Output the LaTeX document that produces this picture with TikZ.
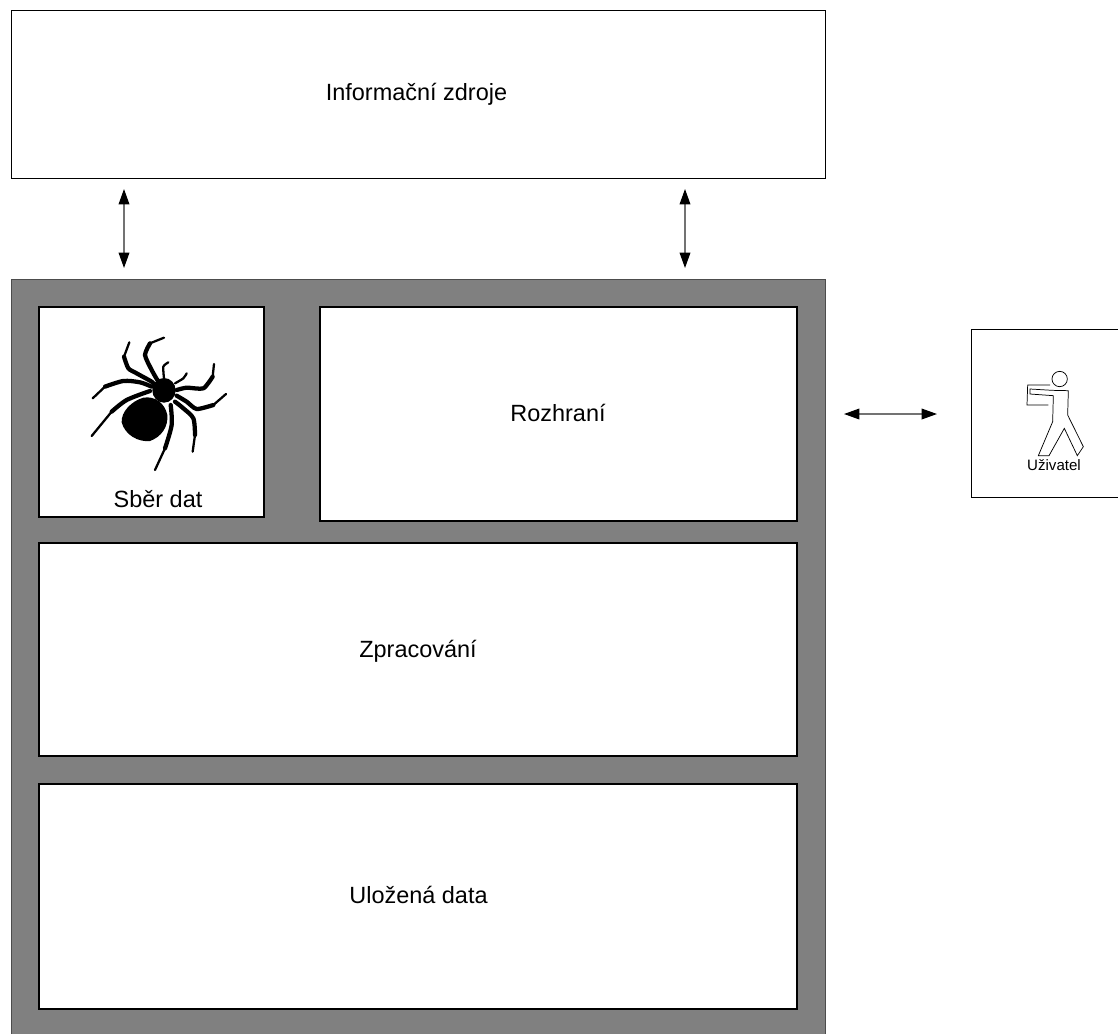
\documentclass[tikz,border=0pt]{standalone}
\usepackage{fontspec}
\setmainfont{Liberation Sans}
\usetikzlibrary{arrows.meta}
\tikzset{
  x=0.75pt,y=-0.75pt,
  outerbox/.style={draw=black,line width=0.6pt,fill=white},
  innerbox/.style={draw=black,line width=1.6pt,fill=white},
  graybox/.style={draw=black!70,line width=0.6pt,fill=black!50},
  lab/.style={font=\fontsize{17.6pt}{20pt}\selectfont,text=black,inner sep=0pt,anchor=base},
  dbl/.style={draw=black!55,line width=1pt,{Stealth[inset=0pt,length=11.5pt,width=8pt,black]}-{Stealth[inset=0pt,length=11.5pt,width=8pt,black]}},
  leg/.style={draw=black,line width=3.2pt,line join=round,line cap=round},
  legthin/.style={draw=black,line width=1.7pt,line join=round,line cap=round},
  person/.style={draw=black,line width=0.55pt,line join=miter}
}
\begin{document}
\begin{tikzpicture}
\useasboundingbox (0,0) rectangle (1118,1033);
\fill[white] (0,0) rectangle (1118,1033);
% outer boxes
\draw[outerbox] (11,10) rectangle (825,178);
\node[lab] (zdroje) at (416.5,100) {Informační zdroje};
\draw[graybox] (11,279) rectangle (825,1040);
\draw[innerbox] (39,307) rectangle (264,517);
\draw[innerbox] (320,307) rectangle (797,521);
\draw[innerbox] (39,543) rectangle (797,756);
\draw[innerbox] (39,784) rectangle (797,1009);
\node[lab] (sber) at (158,507) {Sběr dat};
\node[lab] (rozhrani) at (558,421) {Rozhraní};
\node[lab] (zprac) at (418,657) {Zpracování};
\node[lab] (ulozena) at (418.5,903) {Uložená data};
\draw[outerbox] (971,329) rectangle (1125,497);
\node[font=\fontsize{11.3pt}{13pt}\selectfont,inner sep=0pt,anchor=base] (uziv) at (1054,470) {Uživatel};
% arrows
\coordinate (a1) at (124,189);
\coordinate (a2) at (124,268);
\coordinate (b1) at (685,189);
\coordinate (b2) at (685,268);
\coordinate (c1) at (844,414);
\coordinate (c2) at (937,414);
\draw[dbl] (a1) -- (a2);
\draw[dbl] (b1) -- (b2);
\draw[dbl] (c1) -- (c2);
% spider
\begin{scope}[shift={(40,305)},x=0.25pt,y=-0.25pt]
\fill (310,278) .. controls (345,272) and (375,295) .. (382,330)
  .. controls (385,365) and (365,395) .. (330,408)
  .. controls (295,412) and (255,390) .. (245,352)
  .. controls (243,320) and (275,288) .. (310,278) -- cycle;
\fill (372,256) ellipse [x radius=35,y radius=37];
\draw[leg] plot[smooth,tension=0.4] coordinates {(252,155) (265,190) (290,205) (335,230) (345,240)};
\draw[legthin] (268,112) -- (252,155);
\draw[leg] plot[smooth,tension=0.4] coordinates {(330,115) (315,150) (335,195) (352,225)};
\draw[legthin] (372,98) -- (330,115);
\draw[legthin] plot[smooth,tension=0.4] coordinates {(385,172) (370,185) (372,220)};
\draw[legthin] plot[smooth,tension=0.4] coordinates {(440,205) (430,220) (405,235)};
\draw[leg] plot[smooth,tension=0.4] coordinates {(518,215) (490,250) (440,248) (410,255)};
\draw[legthin] (522,177) -- (518,215);
\draw[leg] plot[smooth,tension=0.4] coordinates {(520,300) (470,312) (440,290) (410,272)};
\draw[legthin] (558,267) -- (520,300);
\draw[leg] plot[smooth,tension=0.5] coordinates {(465,390) (460,340) (430,310) (405,290)};
\draw[legthin] (458,440) -- (465,390);
\draw[leg] plot[smooth,tension=0.5] coordinates {(375,430) (395,360) (392,300)};
\draw[legthin] (345,495) -- (375,430);
\draw[leg] plot[smooth,tension=0.5] coordinates {(195,245) (250,228) (300,232) (335,245)};
\draw[legthin] (158,280) -- (195,245);
\draw[leg] plot[smooth,tension=0.5] coordinates {(215,320) (260,285) (330,258)};
\draw[legthin] (155,393) -- (215,320);
\end{scope}
% person
\begin{scope}[shift={(965,325)},x=0.25pt,y=-0.25pt]
\draw[person] (255,180) -- (188,180) -- (186,240) -- (250,240);
\draw[person] (284,162) circle [radius=23];
\draw[person] (195,192) -- (262,196) -- (310,197) -- (308,270) -- (355,365) -- (337,392) -- (298,310) -- (252,392) -- (220,392) -- (263,290) -- (265,212) -- (195,207) -- cycle;
\end{scope}
\end{tikzpicture}
\end{document}
